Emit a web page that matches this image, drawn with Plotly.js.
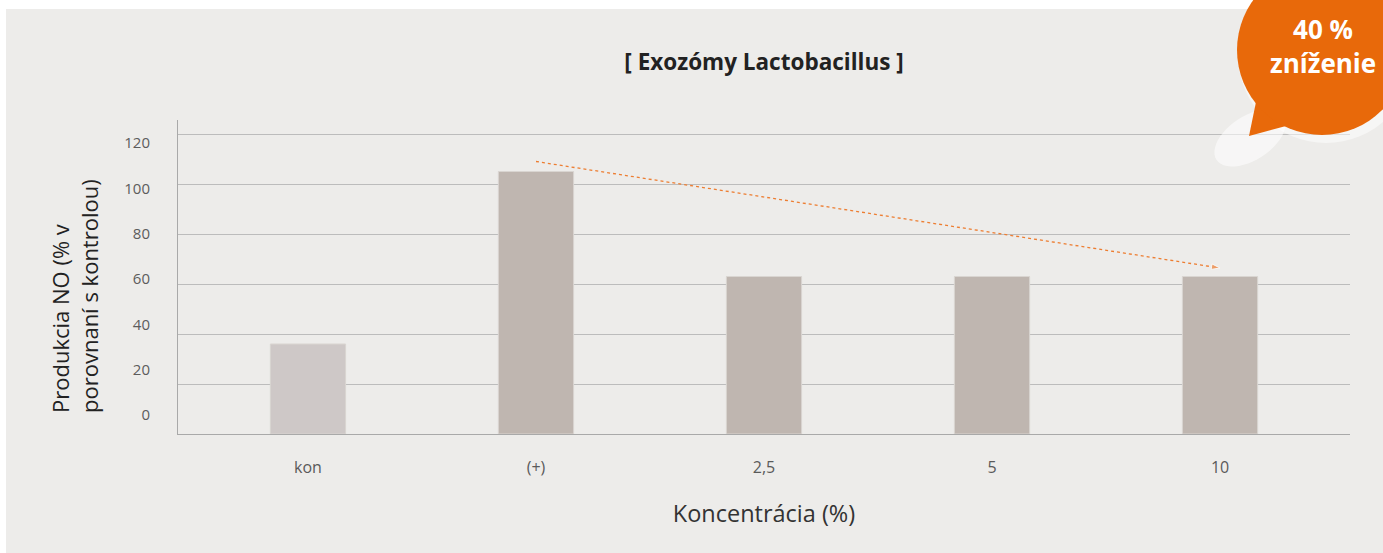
<!DOCTYPE html>
<html>
<head>
<meta charset="utf-8">
<script src="https://cdn.plot.ly/plotly-3.0.1.min.js"></script>
<style>
html,body{margin:0;padding:0;background:#ffffff;}
#chart{width:1383px;height:553px;}
</style>
</head>
<body>
<div id="chart"></div>
<script>
// ---- data ----
const categories = ['kon', '(+)', '2,5', '5', '10'];
const noProduction = [36, 105, 63, 63, 63];
const barColors = ['#cec8c7', '#bfb6b0', '#bfb6b0', '#bfb6b0', '#bfb6b0'];
const trendX = ['(+)', '10'];
const trendY = [109, 66.4];
const yTickValues = [0, 20, 40, 60, 80, 100, 120];
const yTickLabels = ['0', '20', '40', '60', '80', '100', '120'];
const badgeLines = ['40 %', 'zníženie'];
const yTitleText = 'Produkcia NO (% v<br>porovnaní s kontrolou)';

const FONT = 'Open Sans, Segoe UI, sans-serif';

const traces = [
  {
    type: 'bar',
    x: categories,
    y: noProduction,
    width: 0.33,
    marker: { color: barColors, line: { color: '#d9d5d1', width: 1 } },
    hoverinfo: 'x+y'
  },
  {
    type: 'scatter',
    mode: 'lines+markers',
    x: trendX,
    y: trendY,
    line: { color: '#ed7d31', width: 1.3, dash: 'dot' },
    marker: { symbol: 'arrow', angleref: 'previous', size: [0, 9], color: '#ed7d31' },
    hoverinfo: 'skip'
  },
  {
    // invisible trace to carry the tick-label axis
    type: 'scatter',
    x: [categories[0]],
    y: [0],
    yaxis: 'y2',
    mode: 'markers',
    marker: { opacity: 0 },
    hoverinfo: 'skip'
  }
];

const px = v => (v - 178) / 1172;        // page x -> paper x
const py = v => (434 - v) / 314;         // page y -> paper y

// rotated ellipse path (pixel offsets) for the bubble's soft shadow
function ellipsePath(a, b, deg) {
  const t = deg * Math.PI / 180, pts = [];
  for (let i = 0; i < 48; i++) {
    const u = i / 48 * 2 * Math.PI;
    const x = a * Math.cos(u), y = b * Math.sin(u);
    pts.push((x * Math.cos(t) - y * Math.sin(t)).toFixed(2) + ' ' + (x * Math.sin(t) + y * Math.cos(t)).toFixed(2));
  }
  return 'M ' + pts.join(' L ') + ' Z';
}

const layout = {
  width: 1383,
  height: 553,
  margin: { l: 178, r: 33, t: 120, b: 119, pad: 0 },
  paper_bgcolor: '#ffffff',
  plot_bgcolor: 'rgba(0,0,0,0)',
  showlegend: false,
  font: { family: FONT, color: '#555555' },
  title: {
    text: '<b>[ Exozómy Lactobacillus ]</b>',
    font: { family: FONT, size: 22.5, color: '#222222' },
    x: 0.5, xref: 'paper', xanchor: 'center',
    y: 1 - 62 / 553, yref: 'container', yanchor: 'middle'
  },
  xaxis: {
    type: 'category',
    categoryorder: 'array',
    categoryarray: categories,
    range: [-0.57, 4.57],
    showgrid: false,
    showline: true,
    linecolor: '#a9a9a9',
    linewidth: 1,
    ticks: 'outside',
    ticklen: 19,
    tickcolor: 'rgba(0,0,0,0)',
    tickfont: { family: FONT, size: 16, color: '#5a5a5a' },
    title: {
      text: 'Koncentrácia (%)',
      font: { family: FONT, size: 23.5, color: '#333333' },
      standoff: 28
    },
    zeroline: false,
    fixedrange: true
  },
  yaxis: {
    range: [0, 125.6],
    tickvals: yTickValues,
    showticklabels: false,
    showgrid: true,
    gridcolor: '#bcbcbc',
    gridwidth: 1,
    showline: true,
    linecolor: '#a9a9a9',
    linewidth: 1,
    zeroline: false,
    ticks: '',
    fixedrange: true
  },
  yaxis2: {
    overlaying: 'y',
    anchor: 'x',
    side: 'left',
    range: [-8.38, 130.1],
    tickvals: yTickValues,
    ticktext: yTickLabels,
    showgrid: false,
    showline: false,
    zeroline: false,
    ticks: 'outside',
    ticklen: 24,
    tickcolor: 'rgba(0,0,0,0)',
    tickfont: { family: FONT, size: 15, color: '#5c5c5c' },
    fixedrange: true
  },
  shapes: [
    {
      type: 'rect', layer: 'below', xref: 'paper', yref: 'paper',
      x0: px(6), x1: px(1383), y0: py(553), y1: py(9),
      fillcolor: '#edecea', line: { width: 0 }
    },
    // soft white shadow under bubble
    {
      type: 'path', layer: 'above', xref: 'paper', yref: 'paper',
      xsizemode: 'pixel', ysizemode: 'pixel',
      xanchor: px(1250), yanchor: py(138),
      path: ellipsePath(40, 22, 33),
      fillcolor: 'rgba(255,255,255,0.55)', line: { width: 0 }
    },
    {
      type: 'circle', layer: 'above', xref: 'paper', yref: 'paper',
      xsizemode: 'pixel', ysizemode: 'pixel',
      xanchor: px(1326), yanchor: py(55),
      x0: -88, x1: 88, y0: -88, y1: 88,
      fillcolor: 'rgba(255,255,255,0.5)', line: { width: 0 }
    },
    // orange bubble
    {
      type: 'path', layer: 'above', xref: 'paper', yref: 'paper',
      xsizemode: 'pixel', ysizemode: 'pixel',
      xanchor: px(1322), yanchor: py(50),
      path: 'M -66 -52 L -73 -86 L -36 -76 Z',
      fillcolor: '#e8690a', line: { width: 0 }
    },
    {
      type: 'circle', layer: 'above', xref: 'paper', yref: 'paper',
      xsizemode: 'pixel', ysizemode: 'pixel',
      xanchor: px(1322), yanchor: py(50),
      x0: -85, x1: 85, y0: -85, y1: 85,
      fillcolor: '#e8690a', line: { width: 0 }
    }
  ],
  annotations: [
    {
      text: yTitleText, xref: 'paper', yref: 'paper',
      x: px(74), y: py(296), xanchor: 'center', yanchor: 'middle',
      textangle: -90, align: 'left', showarrow: false,
      font: { family: FONT, size: 22, color: '#222222' }
    },
    {
      text: '<b>' + badgeLines.join('<br>') + '</b>', xref: 'paper', yref: 'paper',
      x: px(1323), y: py(46), xanchor: 'center', yanchor: 'middle',
      align: 'center', showarrow: false,
      font: { family: FONT, size: 26, color: '#ffffff' }
    }
  ]
};

Plotly.newPlot('chart', traces, layout, { displayModeBar: false, staticPlot: true });
</script>
</body>
</html>
